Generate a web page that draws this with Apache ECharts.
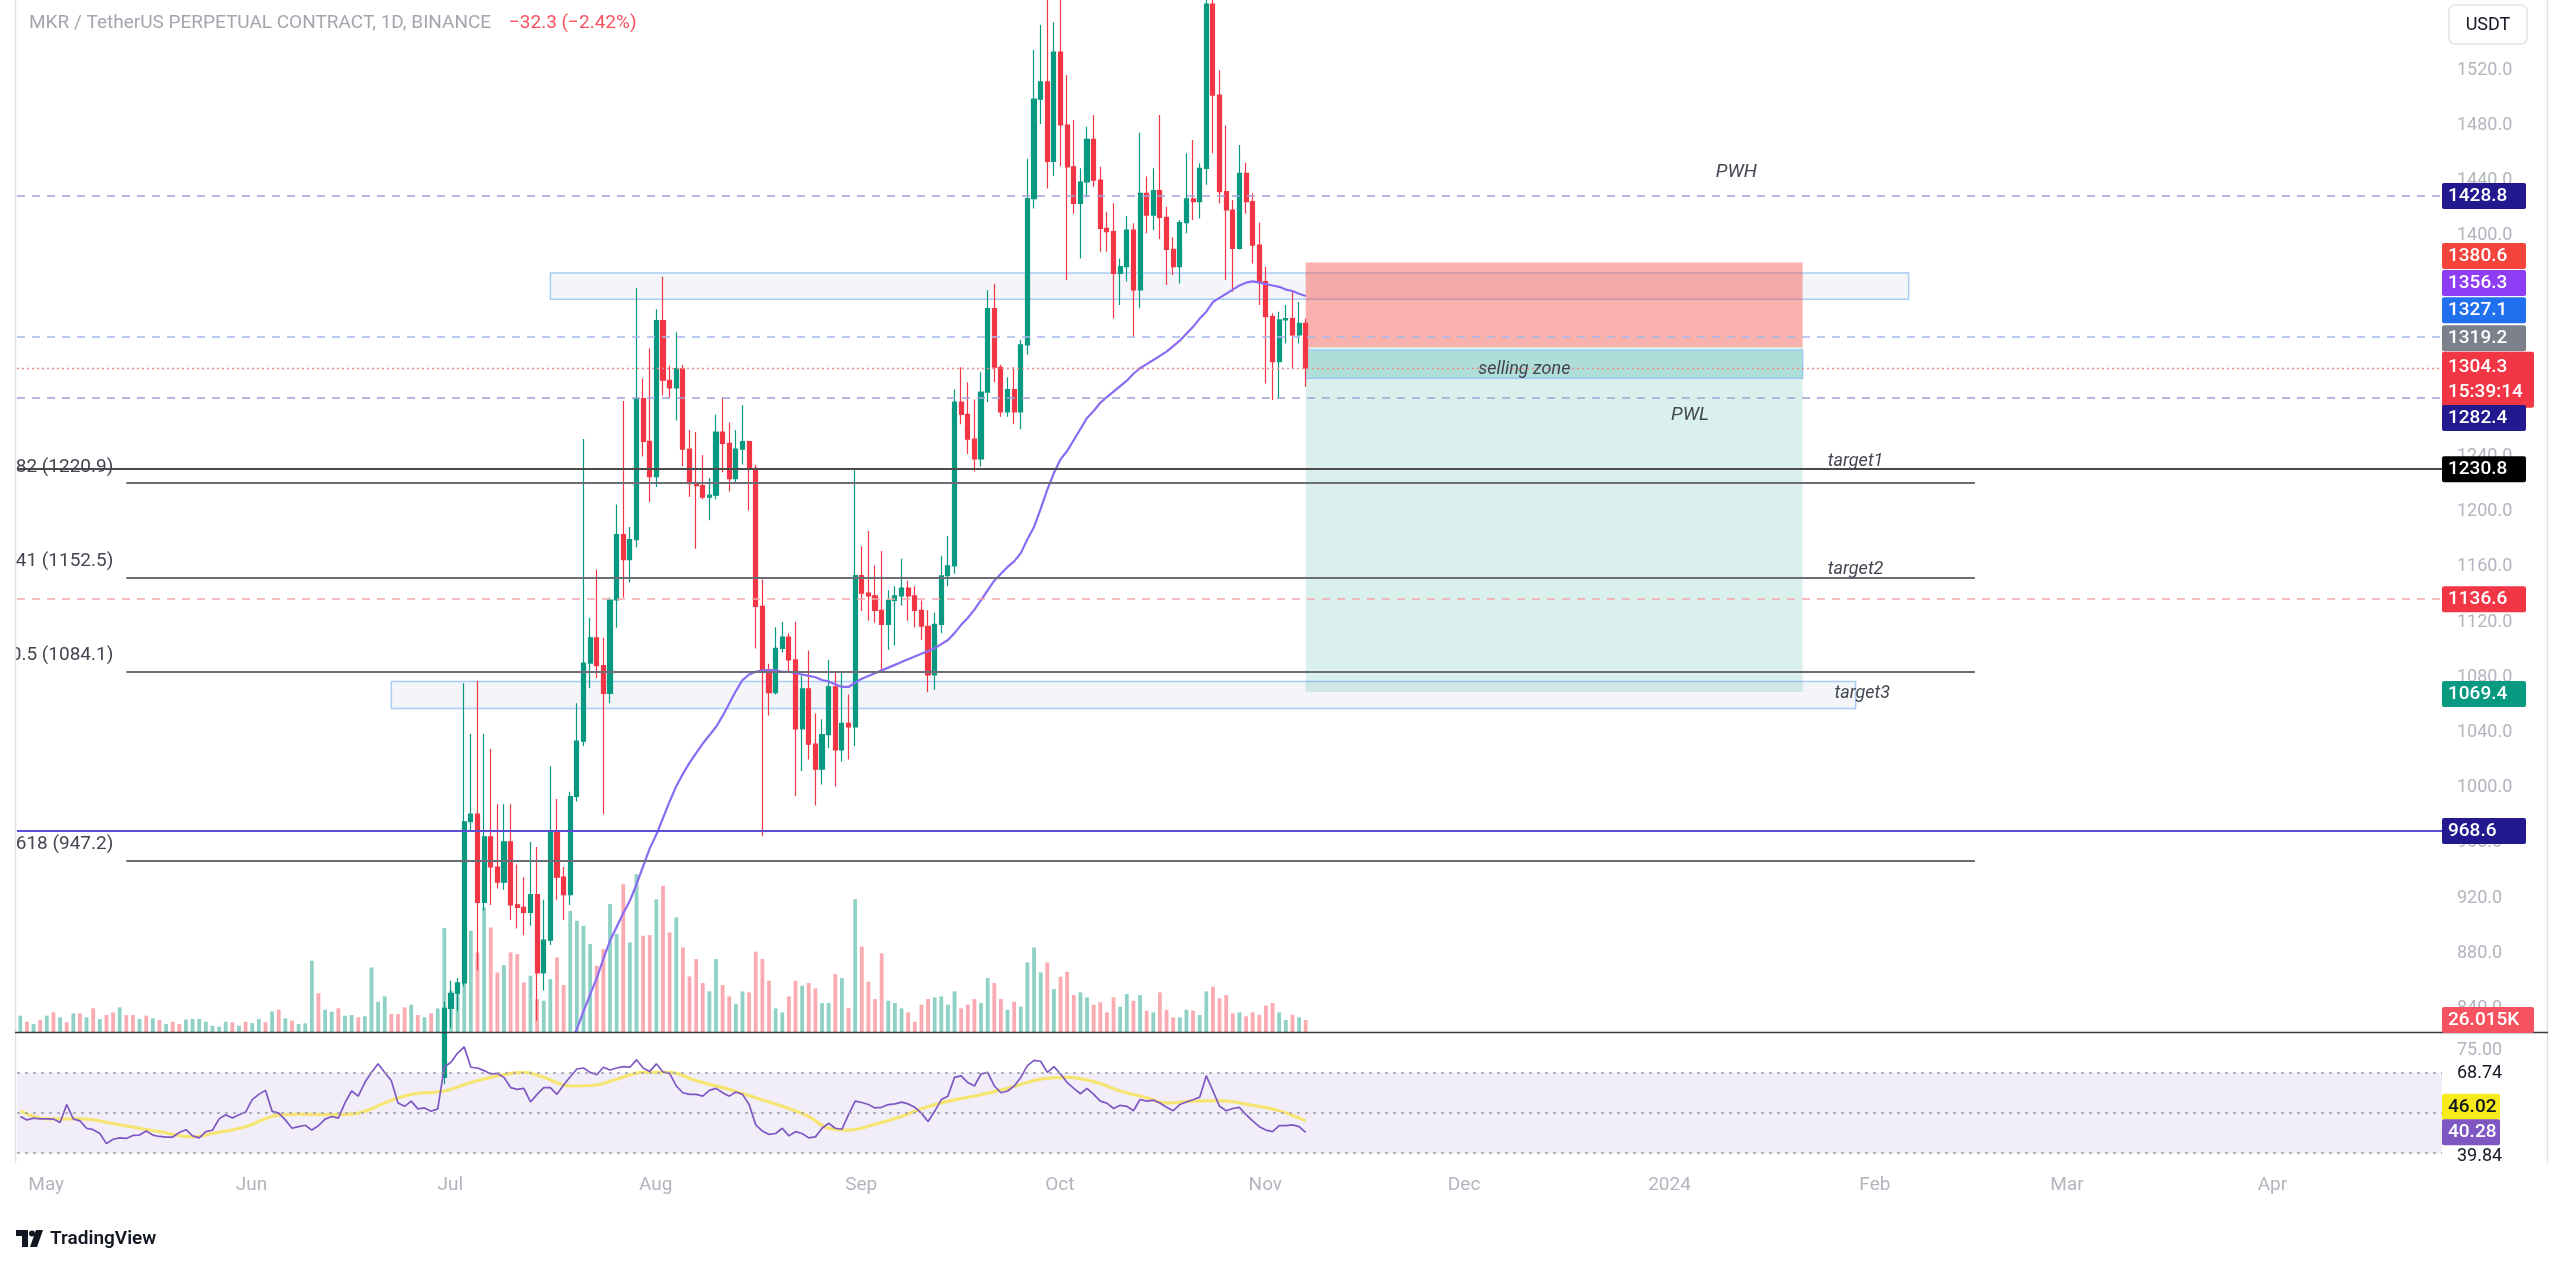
<!DOCTYPE html>
<html><head><meta charset="utf-8">
<script src="https://cdn.jsdelivr.net/npm/echarts@6/dist/echarts.min.js"></script>
<style>html,body{margin:0;padding:0;background:#fff;}#c{width:2560px;height:1264px;}</style>
</head><body><div id="c"></div>
<script>
// ---------------- data ----------------
const firstCategory = '2023-04-28';
const categoryCount = 366;               // Apr 28 2023 .. Apr 27 2024
const monthTickLabels = ['2024','Feb','Mar','Apr','May','Jun','Jul','Aug','Sep','Oct','Nov','Dec'];
const priceTicks = [840,880,920,960,1000,1040,1080,1120,1160,1200,1240,1280,1320,1360,1400,1440,1480,1520,1560];

const candleStart = '2023-07-01';
// [open, close, low, high]
const candles = [
[790,840,785,845],[840,851,826,860],[851,858.5,838,862],[858.5,975.3,856,1075.7],[975.3,980.8,968,1039],
[980.8,916.9,867.6,1077.5],[916.9,964.4,911,1039],[964.4,942.5,915,1028],[942.5,931.5,927,988],[931.5,960.7,926,988],
[960.7,915.1,904,988],[915.1,913.2,898,944.3],[913.2,909.6,893,935],[909.6,922.4,900,960.7],[922.4,865.8,831.1,957],
[865.8,889.5,853,918.7],[889.5,968,886,1015.5],[968,935.2,918.7,991.7],[935.2,922.4,904,942.5],[922.4,993.6,915,997],
[993.6,1033.7,990,1061.1],[1033.7,1090.3,1030,1252.8],[1090.3,1108.6,1072,1123.2],[1108.6,1088.5,1079.4,1157.9],[1088.5,1068.4,980.8,1108.6],
[1068.4,1136,1061.1,1137.8],[1136,1183.4,1115.9,1205.3],[1183.4,1165.2,1137.8,1280.2],[1165.2,1179.8,1148.7,1189],[1179.8,1282,1174.3,1362.3],
[1282,1251,1240,1296.6],[1251,1225.4,1207,1318.5],[1225.4,1338.6,1218,1346.7],[1338.6,1295.3,1284.2,1370.3],[1295.3,1289.7,1282,1306],
[1289.7,1303.6,1266.1,1330],[1303.6,1245.3,1232.8,1306.4],[1245.3,1220.3,1210.6,1259.2],[1220.3,1218.9,1173.1,1257.8],[1218.9,1210.6,1209,1241.1],
[1210.6,1212,1193.9,1224.5],[1212,1257.8,1209,1270.3],[1257.8,1249.5,1228.6,1282.8],[1249.5,1224,1214.7,1264.7],[1224,1245.3,1220.3,1259.2],
[1245.3,1250.9,1234.2,1277.2],[1250.9,1231.4,1200.9,1251.5],[1231.4,1131.4,1100.9,1234],[1131.4,1085.6,964.8,1150.9],[1085.6,1068.9,1052.3,1089.8],
[1068.9,1100.9,1067.5,1116.2],[1100.9,1109.2,1098,1120.3],[1109.2,1092.6,1084,1112],[1092.6,1042.6,993.9,1120.3],[1042.6,1071.7,1012,1081.4],
[1071.7,1031.5,1020.4,1099.5],[1031.5,1013.4,987,1053.7],[1013.4,1038.4,1002.3,1049.5],[1038.4,1073.1,1028.7,1092.6],[1073.1,1027.3,1000.9,1084.2],
[1027.3,1046.7,1019,1084.2],[1046.7,1044,1020.4,1067.5],[1044,1153.7,1030,1230],[1153.7,1141,1128,1175],[1141,1139,1121,1186],
[1139,1128.5,1119.5,1161],[1128.5,1118.4,1085.3,1171.6],[1118.4,1135.7,1099.7,1143],[1135.7,1139,1103,1146],[1139,1144.7,1132,1166],
[1144.7,1139,1121,1150],[1139,1128.5,1116,1146],[1128.5,1117,1107,1135.7],[1117,1081.7,1069.1,1128.5],[1081.7,1118.4,1071,1126.7],
[1118.4,1153.6,1112,1168],[1153.6,1160.8,1146,1182.4],[1160.8,1279.5,1155,1288.5],[1279.5,1270.6,1263.4,1304.7],[1270.6,1252.6,1241.8,1293.9],
[1252.6,1238.2,1229.2,1281.3],[1238.2,1286.7,1232.8,1301.1],[1286.7,1347.2,1279.5,1360.5],[1347.2,1304.7,1293.9,1365.2],[1304.7,1272.4,1268.8,1306.5],
[1272.4,1288.5,1268.8,1297.5],[1288.5,1272.4,1263.4,1304.7],[1272.4,1320.9,1259.8,1324.5],[1320.9,1427,1313.7,1455.8],[1427,1499,1419.8,1534.9],
[1499,1511.5,1481,1552.9],[1511.5,1454,1434.2,1580],[1454,1533.1,1443.2,1554.7],[1533.1,1480.3,1450.4,1580],[1480.3,1450,1368,1516.5],
[1450,1423.5,1416,1484],[1423.5,1439,1383.6,1449],[1439,1469.9,1428,1479],[1469.9,1440.4,1435.6,1487.6],[1440.4,1405.4,1388.5,1450],
[1405.4,1403,1388.5,1417.5],[1403,1372.8,1340,1423.5],[1372.8,1377.6,1349.8,1383.6],[1377.6,1404.2,1366.8,1414.3],[1404.2,1360.7,1326.9,1409],
[1360.7,1430.8,1347.4,1474.7],[1430.8,1415,1401.8,1442.9],[1415,1432.7,1404,1449],[1432.7,1413.4,1397.4,1487.6],[1413.4,1390.2,1364.3,1421],
[1390.2,1377.6,1371.6,1399],[1377.6,1409.5,1365.5,1411.5],[1409.5,1426.7,1401.8,1459.8],[1426.7,1424.7,1411.4,1469.4],[1424.7,1448.9,1412.6,1452.5],
[1448.9,1568,1437,1580],[1568,1502,1459.8,1580],[1502,1432,1423.5,1520],[1432,1418.7,1368,1480],[1418.7,1390.9,1359.5,1426],
[1390.9,1445.3,1390,1465.8],[1445.3,1424.7,1416,1453],[1424.7,1393.3,1380,1430.8],[1393.3,1366.8,1349.8,1409.5],[1366.8,1341.4,1293,1377.6],
[1341.4,1308.8,1281,1343.8],[1308.8,1339,1282,1345],[1339,1340,1322,1349.8],[1340,1328.1,1303.9,1359.5],[1328.1,1336.6,1322,1352],
[1336.6,1304.3,1290.6,1340]
];

const volumeStart = '2023-04-28';
const volumeK = [
35.4,22.4,17.3,26.0,35.4,42.6,31.8,21.0,40.5,40.5,
31.8,51.3,28.2,36.9,42.6,53.5,36.9,36.9,28.2,35.4,
29.6,26.0,17.3,22.4,17.3,26.7,28.2,28.2,22.4,13.7,
11.6,22.4,21.0,13.7,22.4,19.5,28.2,21.0,44.8,48.4,
29.6,24.6,17.3,18.8,154.7,83.8,48.4,44.1,51.3,35.4,
36.9,31.8,34.0,140.2,65.8,77.3,39.0,39.0,53.5,59.3,
36.9,31.8,40.5,51.3,225.5,89.6,107.7,223.3,219.7,172.7,
270.3,226.9,129.4,145.3,172.7,169.1,107.7,122.1,71.5,67.9,
114.9,161.9,101.9,263.1,241.4,230.5,190.8,143.8,180.0,277.5,
212.5,320.9,194.4,342.6,208.9,210.3,288.4,317.3,216.1,248.6,
183.6,120.7,158.3,106.2,88.2,158.3,101.9,77.3,60.7,88.2,
86.0,174.2,158.3,111.3,51.3,42.6,77.3,111.3,100.5,106.2,
94.7,62.9,62.9,125.7,117.1,52.0,288.4,185.7,109.1,71.5,
170.6,67.9,62.9,51.3,42.6,22.4,59.3,71.5,75.2,77.3,
59.3,88.2,51.3,59.3,71.5,62.9,117.1,106.2,71.5,48.4,
65.8,54.9,151.0,183.6,129.4,151.0,93.2,120.0,130.8,80.2,
86.0,75.2,59.3,64.3,42.6,75.2,54.9,82.4,67.9,80.2,
46.3,42.6,86.0,48.4,31.8,31.8,48.4,46.3,36.9,88.2,
98.3,73.0,80.2,40.5,42.6,34.0,42.6,37.6,57.1,62.9,
42.6,26.0,37.6,31.8,26.015
];
// up/down colouring of the volume bars before the first visible candle (G = up, R = down)
const volumeDirBeforeCandles = 'GRGRGRGRGR' + 'GRGRRGRRGR' + 'GRGRRGGGGG' + 'GGRGRGGRGR' + 'GRGGGRGGRG' + 'GRGGGGRRRG' + 'RGRG';

const maStart = '2023-07-20';
const ma = [
815,825,838,850,862,876,889,899,909,918,
930,943,956,966,978,990,1001,1010,1018,1025,
1032,1038,1044,1052,1061,1070,1078,1082,1084,1085,
1085,1085,1084,1084,1083,1082,1081,1080,1078,1077,
1075,1073,1073,1076,1079,1081,1083,1085,1087,1089,
1091,1093,1095,1097,1099,1101,1104,1107,1112,1118,
1123,1129,1136,1143,1150,1155,1160,1164,1170,1180,
1189,1202,1216,1228,1238,1244,1252,1260,1268,1273,
1279,1283,1287,1291,1295,1300,1304,1307,1310,1313,
1316,1320,1324,1329,1334,1340,1345,1352,1355,1358,
1361,1364,1366,1367,1366,1365,1364,1363,1361,1360,
1358,1356.3
];

const rsiStart = '2023-04-28';
const rsi = [
48.2,46.5,47.4,47.0,47.0,46.9,45.2,54.2,47.0,46.0,
42.3,41.6,39.7,34.6,36.8,37.5,37.2,38.7,38.9,40.9,
38.9,38.2,37.9,37.9,40.2,41.6,38.5,37.5,40.6,41.3,
47.0,49.1,47.4,49.1,50.4,56.7,59.3,61.3,50.8,49.9,
46.5,42.3,43.1,43.8,41.4,43.6,46.9,48.2,47.4,55.0,
61.0,58.4,65.2,70.3,74.6,70.3,66.1,55.0,53.3,55.9,
52.0,52.5,50.8,52.0,73.0,75.4,80.0,83.1,72.9,72.5,
71.2,69.5,69.8,67.8,62.7,61.8,62.3,55.5,59.3,62.7,
62.7,59.3,64.0,68.1,72.0,72.5,70.3,69.1,72.9,71.5,
72.5,73.2,72.9,76.6,72.5,70.8,74.6,70.5,69.8,63.5,
60.1,59.3,59.3,58.4,61.3,62.3,60.1,58.4,60.5,59.3,
54.2,44.0,40.9,39.2,39.7,42.3,38.5,40.6,39.7,37.5,
38.0,42.3,44.8,42.3,41.8,49.1,55.9,55.2,54.2,52.5,
52.8,54.2,54.5,55.4,54.5,52.8,49.9,45.7,50.8,56.7,
58.4,67.8,68.6,65.2,63.5,69.5,70.3,63.5,60.1,61.0,
63.5,67.8,73.7,76.3,75.9,70.3,73.2,69.5,65.2,62.3,
59.6,62.3,59.3,55.9,54.9,52.2,53.8,53.3,51.1,56.7,
55.9,56.4,55.0,52.8,51.1,54.2,55.5,56.6,57.9,68.6,
61.0,53.3,51.1,52.2,52.8,49.1,46.0,43.1,41.4,40.6,
43.6,43.6,44.0,43.1,40.28
];

const rsiMaDates = ['2023-04-28','2023-05-02','2023-05-07','2023-05-13','2023-05-19','2023-05-24','2023-05-27','2023-06-01','2023-06-05','2023-06-09',
'2023-06-14','2023-06-18','2023-06-22','2023-06-26','2023-07-01','2023-07-05','2023-07-08','2023-07-13','2023-07-16','2023-07-20',
'2023-07-24','2023-07-27','2023-07-31','2023-08-04','2023-08-08','2023-08-13','2023-08-17','2023-08-21','2023-08-25','2023-08-28',
'2023-08-31','2023-09-04','2023-09-08','2023-09-11','2023-09-15','2023-09-19','2023-09-24','2023-09-29','2023-10-03','2023-10-07',
'2023-10-11','2023-10-15','2023-10-18','2023-10-22','2023-10-26','2023-10-31','2023-11-04','2023-11-08'];
const rsiMaValues = [51.0,47.0,47.0,44.0,40.6,38.0,39.7,43.1,48.2,49.4,
49.1,49.9,55.0,59.3,61.0,65.2,67.8,70.3,67.8,63.5,
64.0,66.9,70.3,70.3,66.1,61.8,57.6,53.3,48.2,42.3,
41.4,44.3,48.2,52.1,55.9,58.4,62.3,66.9,67.8,65.7,
61.0,57.6,55.0,55.9,56.2,53.8,51.1,46.02];

// horizontal levels
const pwh = 1428.8, pwl = 1282.4, blueLevel = 1327.1, target1Level = 1230.8, redLevel = 1136.6, purpleLevel = 968.6;
const stopLevel = 1380.6, entryLevel = 1319.2, targetLevel = 1069.4;
const fibLevels = [0.382, 0.441, 0.5, 0.618];
const fibPrices = [1220.9, 1152.5, 1084.1, 947.2];
const sellingZone = [1296.8, 1317.1];
const upperZone = [1354.0, 1373.0];
const lowerZone = [1057.3, 1076.9];
const rsiBands = [70, 50, 30];

// ---------------- build ----------------
const cats = [];
const t0 = Date.UTC(+firstCategory.slice(0,4), +firstCategory.slice(5,7)-1, +firstCategory.slice(8,10));
for (let i = 0; i < categoryCount; i++) cats.push(new Date(t0 + i*86400000).toISOString().slice(0,10));
const idx = d => cats.indexOf(d);

const cS = idx(candleStart);
const candleData = cats.map((c,i) => { const k = i - cS; return (k >= 0 && k < candles.length) ? candles[k] : ['-','-','-','-']; });
const UP = '#089981', DOWN = '#f23645';
const vS = idx(volumeStart);
const volumeData = [];
for (let i = 0; i < cats.length; i++) {
  const k = i - vS;
  if (k < 0 || k >= volumeK.length) { volumeData.push('-'); continue; }
  const ck = i - cS;
  let up;
  if (ck >= 0 && ck < candles.length) up = candles[ck][1] >= candles[ck][0];
  else up = volumeDirBeforeCandles[k] === 'G';
  volumeData.push({ value: volumeK[k], itemStyle: { color: up ? 'rgba(8,153,129,0.45)' : 'rgba(242,54,69,0.42)' } });
}
const mS = idx(maStart);
const maData = cats.map((c,i) => { const k = i - mS; return (k >= 0 && k < ma.length) ? ma[k] : '-'; });
const rS = idx(rsiStart);
const rsiData = cats.map((c,i) => { const k = i - rS; return (k >= 0 && k < rsi.length) ? rsi[k] : '-'; });
const rsiMaData = cats.map(() => '-');
rsiMaDates.forEach((d,j) => { rsiMaData[idx(d)] = rsiMaValues[j]; });

const lastC = candles[candles.length-1], prevC = candles[candles.length-2];
const chg = lastC[1] - prevC[1];
const chgPct = chg / prevC[1] * 100;
const signed = (v, dp) => (v < 0 ? '\u2212' : '+') + Math.abs(v).toFixed(dp);

const FONT = 'Roboto';
const posStart = idx('2023-11-08'), posEnd = idx('2024-01-22');
const fibStart = idx('2023-05-14'), fibEnd = idx('2024-02-17');

const hLine = (v, color, type, width) => ({ yAxis: v, lineStyle: { color, type, width } });
const box = (x1, y1, x2, y2, style) => [{ coord: [x1, y1], itemStyle: style }, { coord: [x2, y2] }];

const option = {
  animation: false,
  backgroundColor: '#ffffff',
  grid: [
    { left: 17, right: 118, top: 0, height: 1032 },
    { left: 17, right: 118, top: 1033, height: 129 }
  ],
  xAxis: [
    { type: 'category', gridIndex: 0, data: cats, show: false },
    { type: 'category', gridIndex: 1, data: cats,
      axisLine: { show: false }, axisTick: { show: false }, splitLine: { show: false },
      axisLabel: { color: '#b2b5be', fontSize: 19, fontFamily: FONT, margin: 14, padding: [0, 0, 0, 12],
        interval: (i, v) => v.slice(8) === '01',
        formatter: v => monthTickLabels[(+v.slice(5,7)) - 1] } }
  ],
  yAxis: [
    { type: 'value', gridIndex: 0, position: 'right', min: 822.9, max: 1570.9,
      axisLine: { show: false }, axisTick: { show: false }, splitLine: { show: false },
      axisLabel: { customValues: priceTicks, formatter: v => v.toFixed(1), color: '#b2b5be', fontSize: 18, fontFamily: FONT, margin: 15 } },
    { type: 'value', gridIndex: 0, min: 0, max: 2240, show: false },
    { type: 'value', gridIndex: 1, min: 25.4, max: 90.05, show: false }
  ],
  series: [
    { name: 'Zones', type: 'line', xAxisIndex: 0, yAxisIndex: 0, data: [], z: 1, silent: true,
      markArea: { silent: true, data: [
        box(idx('2023-07-17'), upperZone[0], idx('2024-02-07'), upperZone[1], { color: 'rgba(236,239,243,0.6)', borderColor: '#a9ccf5', borderWidth: 1.5 }),
        box(idx('2023-06-23'), lowerZone[0], idx('2024-01-30'), lowerZone[1], { color: 'rgba(236,239,243,0.6)', borderColor: '#a9ccf5', borderWidth: 1.5 }),
        box(posStart, entryLevel, posEnd, stopLevel, { color: 'rgba(239,83,70,0.45)' }),
        box(posStart, targetLevel, posEnd, entryLevel, { color: 'rgba(8,153,129,0.15)' }),
        box(posStart, sellingZone[0], posEnd, sellingZone[1], { color: 'rgba(0,150,136,0.2)', borderColor: '#9cc8f2', borderWidth: 1.5 })
      ] } },
    { name: 'Volume', type: 'bar', xAxisIndex: 0, yAxisIndex: 1, data: volumeData, barWidth: 3.8, z: 1 },
    { name: 'MKR', type: 'candlestick', xAxisIndex: 0, yAxisIndex: 0, data: candleData, clip: true, barWidth: 4.6, z: 3,
      itemStyle: { color: UP, color0: DOWN, borderColor: UP, borderColor0: DOWN, borderWidth: 1.2 },
      markLine: { silent: true, symbol: 'none', label: { show: false }, data: [
        hLine(pwh, '#9ea3d8', [8, 7], 1.6),
        hLine(blueLevel, '#a4b8ea', [8, 7], 1.6),
        hLine(lastC[1], '#f08a8a', [2, 3], 1.4),
        hLine(pwl, '#9ea3d8', [8, 7], 1.6),
        hLine(target1Level, '#4a4a4a', 'solid', 1.8),
        hLine(redLevel, '#f5a6ac', [8, 7], 1.6),
        hLine(purpleLevel, '#5a4fd6', 'solid', 2.2),
        ...fibPrices.map(p => [{ coord: [fibStart, p], lineStyle: { color: '#6b6e76', width: 1.8, type: 'solid' } }, { coord: [fibEnd, p] }])
      ] } },
    { name: 'MA', type: 'line', xAxisIndex: 0, yAxisIndex: 0, data: maData, showSymbol: false, clip: true, z: 4,
      lineStyle: { color: '#8a6cf3', width: 2.2 } },
    { name: 'RSI', type: 'line', xAxisIndex: 1, yAxisIndex: 2, data: rsiData, showSymbol: false, z: 4,
      lineStyle: { color: '#7e57c2', width: 1.7 },
      markArea: { silent: true, data: [[{ yAxis: rsiBands[2], itemStyle: { color: 'rgba(126,87,194,0.1)' } }, { yAxis: rsiBands[0] }]] },
      markLine: { silent: true, symbol: 'none', label: { show: false },
        data: rsiBands.map(b => ({ yAxis: b, lineStyle: { color: '#9a9ca5', type: [3, 5], width: 1.6 } })) } },
    { name: 'RSI MA', type: 'line', xAxisIndex: 1, yAxisIndex: 2, data: rsiMaData, connectNulls: true, smooth: 0.4, showSymbol: false, z: 3,
      lineStyle: { color: 'rgba(247,226,70,0.75)', width: 3.2 } }
  ]
};

const chart = echarts.init(document.getElementById('c'), null, { renderer: 'canvas' });
chart.setOption(option);

// ---------------- labels (positions from the chart's own scales) ----------------
const yP = v => chart.convertToPixel({ yAxisIndex: 0 }, v);
const yV = v => chart.convertToPixel({ yAxisIndex: 1 }, v);
const yR = v => chart.convertToPixel({ yAxisIndex: 2 }, v);
const xP = i => chart.convertToPixel({ xAxisIndex: 0 }, i);
const RX = 2442;
const tagEl = (y, text, bg, fg, w, lh) => ({ type: 'text', x: RX, y, z: 100,
  style: { text, fill: fg, backgroundColor: bg, padding: [3, 6, 3, 6], width: w || 72, lineHeight: lh || 20,
    font: '500 19px ' + FONT, align: 'left', verticalAlign: 'middle', borderRadius: 2 } });
const txt = (x, y, text, o) => ({ type: 'text', x, y, z: 90, style: Object.assign({ text, fill: '#434651', font: '18px ' + FONT, align: 'center', verticalAlign: 'middle' }, o || {}) });

const g = [];
g.push({ type: 'rect', shape: { x: 0, y: 0, width: 15, height: 1264 }, style: { fill: '#ffffff' }, z: 95 });
g.push({ type: 'line', shape: { x1: 15.5, y1: 0, x2: 15.5, y2: 1163 }, style: { stroke: '#e0e3eb', lineWidth: 1.5 }, z: 96 });
g.push({ type: 'line', shape: { x1: 2547.5, y1: 0, x2: 2547.5, y2: 1163 }, style: { stroke: '#e0e3eb', lineWidth: 1.5 }, z: 96 });
g.push({ type: 'line', shape: { x1: 15, y1: 1032.5, x2: 2548, y2: 1032.5 }, style: { stroke: '#363a45', lineWidth: 1.5 }, z: 96 });

fibPrices.forEach((p, j) => g.push(txt(xP(fibStart) - 13, yP(p) - 16, fibLevels[j] + ' (' + p.toFixed(1) + ')', { align: 'right', font: '19px ' + FONT })));

g.push(txt(xP(idx('2024-01-12')), yP(1445.8), 'PWH', { font: 'italic 19px ' + FONT }));
g.push(txt(xP(idx('2024-01-05')), yP(1269.8), 'PWL', { font: 'italic 19px ' + FONT }));
g.push(txt(xP(idx('2023-12-11')), yP(1303.1), 'selling zone', { font: 'italic 18px ' + FONT }));
g.push(txt(xP(idx('2024-01-30')), yP(1236.4), 'target1', { font: 'italic 18px ' + FONT }));
g.push(txt(xP(idx('2024-01-30')), yP(1158.2), 'target2', { font: 'italic 18px ' + FONT }));
g.push(txt(xP(idx('2024-01-31')), yP(1067.9), 'target3', { font: 'italic 18px ' + FONT }));

g.push({ type: 'text', x: 29, y: 23, z: 100, style: { text: 'MKR / TetherUS PERPETUAL CONTRACT, 1D, BINANCE', fill: '#a3a6af', font: '19px ' + FONT, verticalAlign: 'middle' } });
g.push({ type: 'text', x: 509, y: 23, z: 100, style: { text: signed(chg, 1) + ' (' + signed(chgPct, 2) + '%)', fill: '#f7525f', font: '19px ' + FONT, verticalAlign: 'middle' } });

g.push({ type: 'rect', shape: { x: 2449, y: 5, width: 78, height: 39, r: 6 }, style: { fill: '#ffffff', stroke: '#e0e3eb', lineWidth: 1.5 }, z: 99 });
g.push({ type: 'text', x: 2488, y: 25, z: 100, style: { text: 'USDT', fill: '#131722', font: '18px ' + FONT, align: 'center', verticalAlign: 'middle' } });

g.push(tagEl(yP(pwh), pwh.toFixed(1), '#22198f', '#fff'));
g.push(tagEl(yP(stopLevel) - 6.5, stopLevel.toFixed(1), '#f4433b', '#fff'));
g.push(tagEl(yP(ma[ma.length-1]) - 13, ma[ma.length-1].toFixed(1), '#8e3df5', '#fff'));
g.push(tagEl(yP(blueLevel) - 26, blueLevel.toFixed(1), '#2170f0', '#fff'));
g.push(tagEl(yP(entryLevel) - 9, entryLevel.toFixed(1), '#7d808a', '#fff'));
g.push(tagEl(yP(lastC[1]) + 12, lastC[1].toFixed(1) + '\n15:39:14', '#f23645', '#fff', 80, 25));
g.push(tagEl(yP(pwl) + 20, pwl.toFixed(1), '#22198f', '#fff'));
g.push(tagEl(yP(target1Level), target1Level.toFixed(1), '#000000', '#fff'));
g.push(tagEl(yP(redLevel), redLevel.toFixed(1), '#f23645', '#fff'));
g.push(tagEl(yP(targetLevel) + 2, targetLevel.toFixed(1), '#089981', '#fff'));
g.push(tagEl(yP(purpleLevel), purpleLevel.toFixed(1), '#22198f', '#fff'));
g.push(tagEl(yV(volumeK[volumeK.length-1]), volumeK[volumeK.length-1].toFixed(3) + 'K', '#f7525f', '#fff', 80));

g.push({ type: 'text', x: 2457, y: 1050, z: 100, style: { text: '75.00', fill: '#b2b5be', font: '18px ' + FONT, verticalAlign: 'middle' } });
g.push({ type: 'text', x: 2457, y: yR(rsiBands[0]), z: 100, style: { text: '68.74', fill: '#131722', font: '18px ' + FONT, verticalAlign: 'middle' } });
g.push({ type: 'text', x: 2457, y: yR(rsiBands[2]) + 4, z: 100, style: { text: '39.84', fill: '#131722', font: '18px ' + FONT, verticalAlign: 'middle' } });
g.push(tagEl(yR(rsiMaValues[rsiMaValues.length-1]) - 14, rsiMaValues[rsiMaValues.length-1].toFixed(2), '#f7eb1b', '#131722', 46));
g.push(tagEl(yR(rsi[rsi.length-1]), rsi[rsi.length-1].toFixed(2), '#7e57c2', '#fff', 46));

g.push({ type: 'polygon', shape: { points: [[16,1230],[28,1230],[28,1247],[22,1247],[22,1236],[16,1236]] }, style: { fill: '#131722' }, z: 100 });
g.push({ type: 'circle', shape: { cx: 32, cy: 1233.5, r: 3 }, style: { fill: '#131722' }, z: 100 });
g.push({ type: 'polygon', shape: { points: [[36,1230],[43,1230],[37,1247],[30,1247]] }, style: { fill: '#131722' }, z: 100 });
g.push({ type: 'text', x: 50, y: 1239, z: 100, style: { text: 'TradingView', fill: '#131722', font: '600 19px ' + FONT, verticalAlign: 'middle' } });

chart.setOption({ graphic: { elements: g } });
</script></body></html>
